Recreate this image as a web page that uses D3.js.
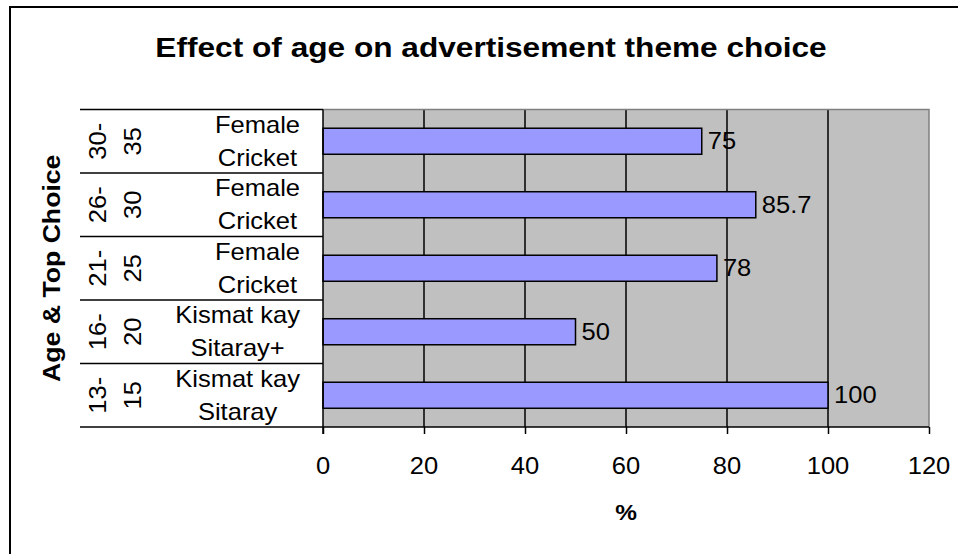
<!DOCTYPE html>
<html>
<head>
<meta charset="utf-8">
<script src="https://cdn.jsdelivr.net/npm/d3@7"></script>
<style>
  html, body { margin: 0; padding: 0; background: #fff; }
  svg { display: block; }
  text { font-family: "Liberation Sans", Arial, sans-serif; fill: #000; }
</style>
</head>
<body>
<svg id="chart" width="958" height="554"></svg>
<script>
// ---- data (top to bottom as displayed) ----
const ageGroups = ["30-35", "26-30", "21-25", "16-20", "13-15"];
const ageLines = [["30-", "35"], ["26-", "30"], ["21-", "25"], ["16-", "20"], ["13-", "15"]];
const topChoices = [["Female", "Cricket"], ["Female", "Cricket"], ["Female", "Cricket"], ["Kismat kay", "Sitaray+"], ["Kismat kay", "Sitaray"]];
const percentValues = [75, 85.7, 78, 50, 100];
const xTickValues = [0, 20, 40, 60, 80, 100, 120];
const chartTitle = "Effect of age on advertisement theme choice";
const xAxisTitle = "%";
const yAxisTitle = "Age & Top Choice";

// ---- layout ----
const svg = d3.select("#chart");
const plot = { left: 323, right: 929, top: 109.5, bottom: 427 };
const SX = 1.11; // glyph widening along text direction
const FS = 23;

const x = d3.scaleLinear().domain([0, 120]).range([plot.left, plot.right]);
const y = d3.scaleBand().domain(ageGroups).range([plot.top, plot.bottom])
  .paddingInner(0.59).paddingOuter(0.295);
const yCat = d3.scaleBand().domain(ageGroups).range([plot.top, plot.bottom]).padding(0);

function addText(parent, str, px, py, o = {}) {
  const sx = o.sx || SX;
  const t = parent.append("text")
    .attr("transform", `translate(${px},${py}) rotate(${o.rotate || 0}) scale(${sx},1)`)
    .attr("text-anchor", o.anchor || "middle")
    .attr("font-size", o.size || FS)
    .attr("font-weight", o.bold ? "bold" : "normal")
    .text(str);
  if (o.dy) t.attr("dy", o.dy);
  return t;
}

// outer border
svg.append("rect").attr("x", 10).attr("y", 7).attr("width", 1000).attr("height", 700)
  .attr("fill", "#fff").attr("stroke", "#000").attr("stroke-width", 2);

// plot background
svg.append("rect")
  .attr("x", plot.left).attr("y", plot.top)
  .attr("width", plot.right - plot.left).attr("height", plot.bottom - plot.top)
  .attr("fill", "#C0C0C0");

// gridlines
svg.append("g").selectAll("line")
  .data(xTickValues.filter(v => v > 0 && v < 120))
  .join("line")
  .attr("x1", d => x(d)).attr("x2", d => x(d))
  .attr("y1", plot.top).attr("y2", plot.bottom)
  .attr("stroke", "#000").attr("stroke-width", 1.5);

// plot border (top/right gray)
svg.append("path")
  .attr("d", `M${plot.left},${plot.top}H${plot.right}V${plot.bottom}`)
  .attr("fill", "none").attr("stroke", "#808080").attr("stroke-width", 1.5);

// bars
svg.append("g").selectAll("rect")
  .data(percentValues)
  .join("rect")
  .attr("x", x(0))
  .attr("y", (d, i) => y(ageGroups[i]))
  .attr("width", d => x(d) - x(0))
  .attr("height", y.bandwidth())
  .attr("fill", "#9999FF").attr("stroke", "#000").attr("stroke-width", 1.5);

// value labels
const valG = svg.append("g");
percentValues.forEach((d, i) => {
  addText(valG, String(d), x(d) + 6, y(ageGroups[i]) + y.bandwidth() / 2, { anchor: "start", dy: "0.35em" });
});

// x axis
const xAxis = d3.axisBottom(x).tickValues(xTickValues).tickSize(7).tickFormat("");
const xg = svg.append("g").attr("transform", `translate(0,${plot.bottom})`).call(xAxis);
xg.select(".domain").remove();
xg.selectAll(".tick line").attr("stroke", "#000").attr("stroke-width", 1.5);
const xLab = svg.append("g");
xTickValues.forEach(v => addText(xLab, String(v), x(v), 466, { dy: "0.35em" }));

// bottom axis line (extends under category labels)
svg.append("line").attr("x1", 80).attr("x2", plot.right)
  .attr("y1", plot.bottom).attr("y2", plot.bottom)
  .attr("stroke", "#000").attr("stroke-width", 1.5);
// left axis line
svg.append("line").attr("x1", plot.left).attr("x2", plot.left)
  .attr("y1", plot.top).attr("y2", plot.bottom + 7)
  .attr("stroke", "#000").attr("stroke-width", 1.5);

// category separators
svg.append("g").selectAll("line")
  .data(ageGroups)
  .join("line")
  .attr("x1", 80).attr("x2", plot.left)
  .attr("y1", d => yCat(d)).attr("y2", d => yCat(d))
  .attr("stroke", "#000").attr("stroke-width", 1.5);

// category labels
const catG = svg.append("g");
ageGroups.forEach((g, i) => {
  const cy = yCat(g) + yCat.bandwidth() / 2;
  // age (rotated, two lines)
  addText(catG, ageLines[i][0], 98, cy, { rotate: -90, dy: "0.35em" });
  addText(catG, ageLines[i][1], 133, cy, { rotate: -90, dy: "0.35em" });
  // top choice, two lines centered, block right-aligned
  const t1 = addText(catG, topChoices[i][0], 0, cy - 16.5, { dy: "0.35em" });
  const t2 = addText(catG, topChoices[i][1], 0, cy + 16.5, { dy: "0.35em" });
  const w = Math.max(t1.node().getComputedTextLength(), t2.node().getComputedTextLength()) * SX;
  const cx = 300 - w / 2;
  t1.attr("transform", `translate(${cx},${cy - 16.5}) scale(${SX},1)`);
  t2.attr("transform", `translate(${cx},${cy + 16.5}) scale(${SX},1)`);
});

// titles
addText(svg, chartTitle, 491, 57, { size: 28, bold: true, sx: 1.13 });
addText(svg, xAxisTitle, (plot.left + plot.right) / 2, 512, { size: 22, bold: true, dy: "0.35em" });
addText(svg, yAxisTitle, 52, (plot.top + plot.bottom) / 2, { size: 24, bold: true, rotate: -90, dy: "0.35em" });
</script>
</body>
</html>
